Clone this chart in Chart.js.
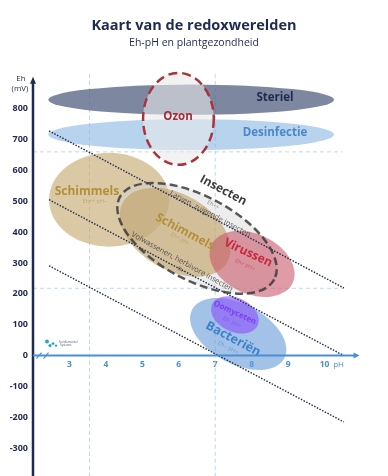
<!DOCTYPE html>
<html>
<head>
<meta charset="utf-8">
<script src="https://cdn.jsdelivr.net/npm/chart.js@4.4.1/dist/chart.umd.min.js"></script>
<style>
html, body { margin: 0; padding: 0; background: #fff; }
#wrap { width: 388px; height: 476px; }
</style>
</head>
<body>
<div id="wrap"><canvas id="redox"></canvas></div>
<script>
// tick labels
const ehTicks = [-300, -200, -100, 0, 100, 200, 300, 400, 500, 600, 700, 800];
const phTicks = [3, 4, 5, 6, 7, 8, 9, 10];

// zones (ellipses): centre, half extent along tilted axes, tilt in degrees
const zoneNames = ['Steriel', 'Desinfectie', 'Ozon', 'Schimmels', 'Insecten', 'Schimmels', 'Virussen', 'Bacteriën', 'Oomyceten'];
const zoneSubs = ['', '', '', 'Eh++ pH--', 'Eh++', 'Eh+ pH-', 'Eh+ pH+', 'Eh-- pH+', 'Eh- pH+'];
const zonePH = [6.34, 6.34, 5.99, 4.09, 6.50, 5.90, 8.01, 7.63, 7.54];
const zoneEh = [829, 716, 767, 505, 380, 400, 297, 70, 132];
const zoneHalfPH = [3.92, 3.92, 0.97, 1.65, 2.40, 1.65, 1.23, 1.43, 0.69];
const zoneHalfEh = [49, 50, 149, 152, 136, 123, 97, 97, 55];
const zoneTilt = [0, 0, 0, 0, 28, 30, 25, 28, 25];

// where the zone names sit
const labelPH = [8.64, 8.64, 5.98, 3.48, 7.22, 6.17, 7.90, 7.49, 7.54];
const labelEh = [835, 722, 775, 530, 535, 401, 333, 54, 139];
const labelTilt = [0, 0, 0, 0, 28, 28, 25, 28, 25];
const subPH = [0, 0, 0, 3.70, 6.94, 6.03, 7.82, 7.35, 7.46];
const subEh = [0, 0, 0, 501, 488, 378, 294, 25, 108];

// dotted boundary lines
const lineFromPH = [2.44, 2.44, 2.44];
const lineFromEh = [728, 505, 291];
const lineToPH = [10.53, 10.53, 10.53];
const lineToEh = [219, 0, -215];

// notes along the lines
const noteTexts = ['Larven, zuigende insecten', 'Volwassenen, herbivore insecten', 'Eh-'];
const notePH = [6.86, 6.09, 6.06];
const noteEh = [459, 304, 278];
const noteTilt = [28, 29, 29];

// dashed guides
const guidePH = [3.55, 7];
const guideEh = [660, 218];

const navy = '#1e2a4f';
const axisBlue = '#4a8fd4';
const font = '"Open Sans", "Noto Sans", sans-serif';

const zoneStyles = [
    { fill: 'rgba(88,101,133,0.78)', text: navy, size: 11.5 },
    { fill: 'rgba(140,184,228,0.62)', text: '#4a88c9', size: 11.5 },
    { fill: 'rgba(232,232,235,0.58)', stroke: '#a8343a', dash: [9, 5], text: '#a52a35', size: 11.5 },
    { fill: 'rgba(196,168,108,0.62)', text: '#b38f3a', size: 12 },
    { fill: 'rgba(215,215,215,0.45)', stroke: 'rgba(60,60,60,0.85)', dash: [8, 4], text: '#3c3c3c', size: 12 },
    { fill: 'rgba(192,160,98,0.6)', text: '#b38f3a', size: 12 },
    { fill: 'rgba(200,84,104,0.58)', text: '#c8283e', size: 12 },
    { fill: 'rgba(100,155,215,0.6)', text: '#3f7fcb', size: 12.5 },
    { fill: 'rgba(140,80,250,0.62)', text: '#7d3ff2', size: 8 }
];

function ellipsePath(ctx, chart, i) {
    const xs = chart.scales.x, ys = chart.scales.y;
    const cx = xs.getPixelForValue(zonePH[i]);
    const cy = ys.getPixelForValue(zoneEh[i]);
    const rx = xs.getPixelForValue(zonePH[i] + zoneHalfPH[i]) - cx;
    const ry = ys.getPixelForValue(zoneEh[i] - zoneHalfEh[i]) - cy;
    ctx.beginPath();
    ctx.ellipse(cx, cy, rx, ry, zoneTilt[i] * Math.PI / 180, 0, Math.PI * 2);
}

function tiltedText(ctx, text, x, y, deg, f, color) {
    ctx.save();
    ctx.translate(x, y);
    ctx.rotate(deg * Math.PI / 180);
    ctx.font = f;
    ctx.fillStyle = color;
    ctx.textAlign = 'center';
    ctx.textBaseline = 'middle';
    ctx.fillText(text, 0, 0);
    ctx.restore();
}

const redoxPlugin = {
    id: 'redox',
    beforeDatasetsDraw(chart) {
        const ctx = chart.ctx, xs = chart.scales.x, ys = chart.scales.y;
        const area = chart.chartArea;
        ctx.save();
        ctx.strokeStyle = 'rgba(170,200,235,0.75)';
        ctx.lineWidth = 1;
        ctx.setLineDash([4, 3]);
        guidePH.forEach(v => {
            const x = xs.getPixelForValue(v);
            ctx.beginPath();
            ctx.moveTo(x, area.top - 4);
            ctx.lineTo(x, area.bottom);
            ctx.stroke();
        });
        guideEh.forEach(v => {
            const y = ys.getPixelForValue(v);
            ctx.beginPath();
            ctx.moveTo(area.left, y);
            ctx.lineTo(xs.getPixelForValue(10.5), y);
            ctx.stroke();
        });
        ctx.setLineDash([]);

        zoneNames.forEach((name, i) => {
            const st = zoneStyles[i];
            ellipsePath(ctx, chart, i);
            ctx.fillStyle = st.fill;
            ctx.fill();
            if (st.stroke && i !== 4) {
                ctx.setLineDash(st.dash);
                ctx.strokeStyle = st.stroke;
                ctx.lineWidth = 2.5;
                ctx.stroke();
                ctx.setLineDash([]);
            }
        });
        ctx.restore();
    },
    afterDatasetsDraw(chart) {
        const ctx = chart.ctx, xs = chart.scales.x, ys = chart.scales.y;
        const area = chart.chartArea;
        ctx.save();

        // Insecten outline on top
        const ins = zoneStyles[4];
        ellipsePath(ctx, chart, 4);
        ctx.setLineDash(ins.dash);
        ctx.strokeStyle = ins.stroke;
        ctx.lineWidth = 2.5;
        ctx.stroke();
        ctx.setLineDash([]);

        noteTexts.forEach((t, i) => {
            const size = i === 2 ? 5 : 7.5;
            tiltedText(ctx, t, xs.getPixelForValue(notePH[i]), ys.getPixelForValue(noteEh[i]),
                noteTilt[i], size + 'px ' + font, 'rgba(70,70,70,0.9)');
        });

        zoneNames.forEach((name, i) => {
            const st = zoneStyles[i];
            tiltedText(ctx, name, xs.getPixelForValue(labelPH[i]), ys.getPixelForValue(labelEh[i]),
                labelTilt[i], 'bold ' + st.size + 'px ' + font, st.text);
            if (zoneSubs[i]) {
                ctx.globalAlpha = 0.6;
                tiltedText(ctx, zoneSubs[i], xs.getPixelForValue(subPH[i]), ys.getPixelForValue(subEh[i]),
                    labelTilt[i], '5.5px ' + font, st.text);
                ctx.globalAlpha = 1;
            }
        });

        // y axis with arrow
        const x0 = area.left;
        ctx.strokeStyle = navy;
        ctx.fillStyle = navy;
        ctx.lineWidth = 2.5;
        ctx.beginPath();
        ctx.moveTo(x0, area.bottom);
        ctx.lineTo(x0, area.top + 4);
        ctx.stroke();
        ctx.beginPath();
        ctx.moveTo(x0, area.top - 1);
        ctx.lineTo(x0 - 3, area.top + 6);
        ctx.lineTo(x0 + 3, area.top + 6);
        ctx.closePath();
        ctx.fill();

        // x axis at Eh = 0 with arrow
        const y0 = ys.getPixelForValue(0);
        const xEnd = xs.getPixelForValue(10.96);
        ctx.strokeStyle = axisBlue;
        ctx.fillStyle = axisBlue;
        ctx.lineWidth = 2;
        ctx.beginPath();
        ctx.moveTo(x0, y0);
        ctx.lineTo(xEnd - 4, y0);
        ctx.stroke();
        ctx.beginPath();
        ctx.moveTo(xEnd, y0);
        ctx.lineTo(xEnd - 6, y0 - 3);
        ctx.lineTo(xEnd - 6, y0 + 3);
        ctx.closePath();
        ctx.fill();
        ctx.lineWidth = 1.2;
        [39, 46].forEach(bx => {
            ctx.beginPath();
            ctx.moveTo(bx - 2.5, y0 + 3);
            ctx.lineTo(bx + 2.5, y0 - 3);
            ctx.stroke();
        });

        ctx.font = '8px ' + font;
        ctx.textAlign = 'center';
        ctx.textBaseline = 'middle';
        ctx.fillText('pH', xs.getPixelForValue(10) + 14, y0 + 9);

        ctx.fillStyle = navy;
        ctx.fillText('Eh', x0 - 12, area.top + 1);
        ctx.fillText('(mV)', x0 - 13, area.top + 11);

        // small logo
        const lx = x0 + 14, ly = y0 - 12;
        ctx.fillStyle = '#2aa6c8';
        [[0, -2, 2], [3, 2, 1.6], [6, 0, 1.4], [9, 2, 1.2]].forEach(d => {
            ctx.beginPath();
            ctx.arc(lx + d[0], ly + d[1], d[2], 0, Math.PI * 2);
            ctx.fill();
        });
        ctx.fillStyle = '#4a5a7a';
        ctx.font = '3px ' + font;
        ctx.textAlign = 'left';
        ctx.fillText('Fundamental', lx + 12, ly - 1);
        ctx.fillText('Systems', lx + 13, ly + 2);
        ctx.restore();
    }
};

const lineSets = lineFromPH.map((p, i) => ({
    data: [{ x: p, y: lineFromEh[i] }, { x: lineToPH[i], y: lineToEh[i] }],
    borderColor: '#1f2a55',
    borderWidth: 1.4,
    borderDash: [1.5, 1.5],
    pointRadius: 0,
    showLine: true,
    fill: false
}));

new Chart(document.getElementById('redox'), {
    type: 'scatter',
    data: { datasets: lineSets },
    plugins: [redoxPlugin],
    options: {
        responsive: true,
        maintainAspectRatio: false,
        animation: false,
        devicePixelRatio: 1,
        layout: { padding: 0 },
        plugins: {
            legend: { display: false },
            tooltip: { enabled: false },
            title: {
                display: true,
                text: 'Kaart van de redoxwerelden',
                color: navy,
                font: { family: font, size: 14.5, weight: 'bold' },
                padding: { top: 17, bottom: 0.4 }
            },
            subtitle: {
                display: true,
                text: 'Eh-pH en plantgezondheid',
                color: navy,
                font: { family: font, size: 10.5 },
                padding: { top: 2, bottom: 28.4 }
            }
        },
        scales: {
            x: {
                type: 'linear',
                min: 2,
                max: 11.74,
                position: { y: 0 },
                afterBuildTicks: s => { s.ticks = phTicks.map(v => ({ value: v })); },
                afterFit: s => { s.paddingLeft = 0; s.paddingRight = 0; },
                grid: { display: false, drawTicks: false },
                border: { display: false },
                ticks: {
                    color: axisBlue,
                    padding: 4,
                    font: { family: font, size: 8.5, weight: 'bold' }
                }
            },
            y: {
                type: 'linear',
                min: -390,
                max: 900,
                position: 'left',
                afterBuildTicks: s => { s.ticks = ehTicks.map(v => ({ value: v })); },
                afterFit: s => { s.width = 33; s.paddingTop = 0; s.paddingBottom = 0; },
                grid: { display: false, drawTicks: false },
                border: { display: false },
                ticks: {
                    color: navy,
                    padding: 5,
                    font: { family: font, size: 9, weight: 'bold' }
                }
            }
        }
    }
});
</script>
</body>
</html>
